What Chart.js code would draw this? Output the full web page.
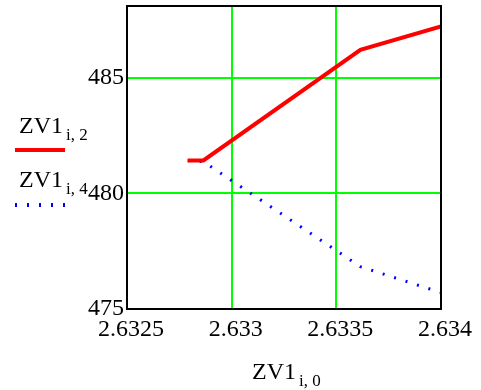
<!DOCTYPE html>
<html>
<head>
<meta charset="utf-8">
<script src="https://cdn.jsdelivr.net/npm/chart.js@4"></script>
<style>
  body { margin: 0; background: #fff; }
  #wrap { position: relative; width: 481px; height: 390px; }
</style>
</head>
<body>
<div id="wrap"><canvas id="plot" width="481" height="390"></canvas></div>
<script>
// data
const xTicks = [2.6325, 2.633, 2.6335, 2.634];
const yTicks = [475, 480, 485];
const zv1i0 = [2.63279, 2.632865, 2.633615, 2.634];
const zv1i2 = [481.42, 481.42, 486.2, 487.22];
const zv1i4 = [481.42, 481.37, 476.83, 475.71];

const serif = "'Liberation Serif', 'Times New Roman', serif";

function pts(xs, ys) {
    return xs.map((x, i) => ({ x: x, y: ys[i] }));
}

// frame, legend and axis title (with subscripts)
const decor = {
    id: 'decor',
    afterDraw(chart) {
        const ctx = chart.ctx;
        const a = chart.chartArea;
        ctx.save();
        ctx.strokeStyle = '#000';
        ctx.lineWidth = 2;
        ctx.strokeRect(a.left, a.top, a.right - a.left, a.bottom - a.top);

        ctx.fillStyle = '#000';
        ctx.textBaseline = 'alphabetic';
        const label = (x, y, main, sub) => {
            ctx.font = '24px ' + serif;
            ctx.fillText(main, x, y);
            const w = ctx.measureText(main).width;
            ctx.font = '17px ' + serif;
            ctx.fillText(sub, x + w + 3, y + 7);
        };

        // legend
        label(19, 133, 'ZV1', 'i, 2');
        ctx.strokeStyle = '#ff0000';
        ctx.lineWidth = 4;
        ctx.beginPath();
        ctx.moveTo(15, 150);
        ctx.lineTo(65, 150);
        ctx.stroke();

        label(19, 187, 'ZV1', 'i, 4');
        ctx.strokeStyle = '#0000ff';
        ctx.lineWidth = 4;
        ctx.setLineDash([2, 10]);
        ctx.beginPath();
        ctx.moveTo(15, 205);
        ctx.lineTo(67, 205);
        ctx.stroke();
        ctx.setLineDash([]);

        // x axis title
        label(252, 379, 'ZV1', 'i, 0');
        ctx.restore();
    }
};

new Chart(document.getElementById('plot'), {
    type: 'scatter',
    data: {
        datasets: [{
            label: 'ZV1 i,2',
            data: pts(zv1i0, zv1i2),
            showLine: true,
            borderColor: '#ff0000',
            borderWidth: 4,
            pointRadius: 0
        }, {
            label: 'ZV1 i,4',
            data: pts(zv1i0, zv1i4),
            showLine: true,
            borderColor: '#0000ff',
            borderWidth: 3,
            borderDash: [2, 10],
            pointRadius: 0
        }]
    },
    options: {
        responsive: false,
        animation: false,
        layout: { padding: { top: 6, right: 40, left: 0, bottom: 0 } },
        plugins: {
            legend: { display: false },
            tooltip: { enabled: false }
        },
        scales: {
            x: {
                type: 'linear',
                min: 2.6325,
                max: 2.634,
                afterBuildTicks: axis => { axis.ticks = xTicks.map(v => ({ value: v })); },
                afterFit: axis => {
                    axis.height = 81;
                    axis.paddingLeft = 0;
                    axis.paddingRight = 0;
                },
                grid: { color: '#00ff00', lineWidth: 2, drawTicks: false },
                border: { display: false },
                ticks: {
                    callback: v => String(v),
                    font: { family: serif, size: 24 },
                    color: '#000',
                    padding: 6,
                    labelOffset: 4,
                    maxRotation: 0,
                    autoSkip: false
                }
            },
            y: {
                type: 'linear',
                min: 475,
                max: 488.1,
                afterBuildTicks: axis => { axis.ticks = yTicks.map(v => ({ value: v })); },
                afterFit: axis => {
                    axis.width = 127;
                    axis.paddingTop = 0;
                    axis.paddingBottom = 0;
                },
                grid: { color: '#00ff00', lineWidth: 2, drawTicks: false },
                border: { display: false },
                ticks: {
                    callback: v => String(v),
                    font: { family: serif, size: 24 },
                    color: '#000',
                    padding: 3
                }
            }
        }
    },
    plugins: [decor]
});
</script>
</body>
</html>
